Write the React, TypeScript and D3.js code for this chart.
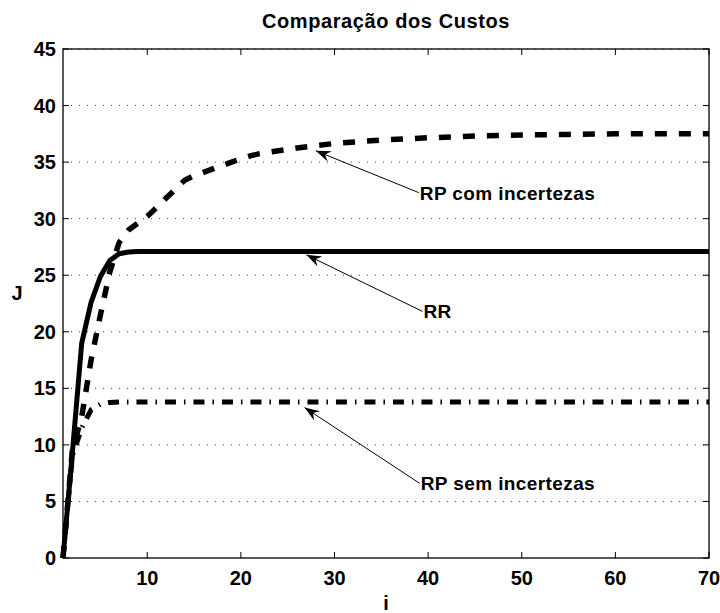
import React from "react";
import * as d3 from "d3";

// iteration index
const iters = [1,2,3,4,5,6,7,8,9,10,11,12,13,14,15,16,17,18,19,20,21,22,24,26,28,30,35,40,45,50,55,60,65,70];
// RR (solid)
const rrValues = [0,9.3,19,22.6,24.9,26.3,26.9,27.05,27.1,27.1,27.1,27.1,27.1,27.1,27.1,27.1,27.1,27.1,27.1,27.1,27.1,27.1,27.1,27.1,27.1,27.1,27.1,27.1,27.1,27.1,27.1,27.1,27.1,27.1];
// RP com incertezas (dashed)
const rpComValues = [0,9.5,12.5,17.5,21.5,25.3,27.9,29,29.6,30.2,31,31.8,32.6,33.4,33.8,34.1,34.4,34.7,35,35.3,35.55,35.75,36.0,36.25,36.45,36.65,36.95,37.15,37.3,37.4,37.45,37.5,37.5,37.5];
// RP sem incertezas (dash-dot)
const rpSemValues = [0,9,11.5,13.1,13.6,13.75,13.8,13.8,13.8,13.8,13.8,13.8,13.8,13.8,13.8,13.8,13.8,13.8,13.8,13.8,13.8,13.8,13.8,13.8,13.8,13.8,13.8,13.8,13.8,13.8,13.8,13.8,13.8,13.8];

const xTicks = [10,20,30,40,50,60,70];
const yTicks = [0,5,10,15,20,25,30,35,40,45];

const title = "Comparação dos Custos";
const xLabel = "i";
const yLabel = "J";

// annotations
const annLabels = ["RP com incertezas", "RR", "RP sem incertezas"];
const annTargetX = [28.0, 27.0, 26.8];
const annTargetY = [36.0, 26.8, 13.3];
const annTextX = [39.0, 39.4, 39.1];
const annTextY = [32.3, 21.8, 6.6];

const W = 720, H = 613;
const L = 63, R = 709, T = 49, B = 558;
const font = "'Liberation Sans', Arial, Helvetica, sans-serif";

export default function App() {
  const x = d3.scaleLinear().domain([1, 70]).range([L, R]);
  const y = d3.scaleLinear().domain([0, 45]).range([B, T]);
  const line = d3.line<number>().x((_, i) => x(iters[i])).y((d) => y(d));

  const arrow = (x1: number, y1: number, x2: number, y2: number) => {
    const ang = Math.atan2(y2 - y1, x2 - x1);
    const len = 15, wid = 5.5, notch = 10;
    const ux = Math.cos(ang), uy = Math.sin(ang);
    const px = -uy, py = ux;
    const bx = x2 - ux * len, by = y2 - uy * len;
    const nx = x2 - ux * notch, ny = y2 - uy * notch;
    return `M${x2},${y2}L${bx + px * wid},${by + py * wid}L${nx},${ny}L${bx - px * wid},${by - py * wid}Z`;
  };

  return (
    <svg width={W} height={H} style={{ position: "absolute", left: 0, top: 0, background: "#fff" }} fontFamily={font}>
      <rect x={0} y={0} width={W} height={H} fill="#fff" />
      {yTicks.filter((t) => t > 0).map((t) => (
        <line key={"g" + t} x1={L} x2={R} y1={y(t)} y2={y(t)} stroke="#444" strokeWidth={1} strokeDasharray="1 7" />
      ))}
      <path d={line(rpSemValues) || ""} fill="none" stroke="#000" strokeWidth={5} strokeDasharray="11 8 1.5 8" />
      <path d={line(rpComValues) || ""} fill="none" stroke="#000" strokeWidth={5.5} strokeDasharray="12 12" />
      <path d={line(rrValues) || ""} fill="none" stroke="#000" strokeWidth={5} strokeLinejoin="round" />
      <rect x={L} y={T} width={R - L} height={B - T} fill="none" stroke="#000" strokeWidth={1.3} />
      {xTicks.map((t) => (
        <g key={"x" + t}>
          <line x1={x(t)} x2={x(t)} y1={B} y2={B - 6} stroke="#000" />
          <line x1={x(t)} x2={x(t)} y1={T} y2={T + 6} stroke="#000" />
          <text x={x(t)} y={585} textAnchor="middle" fontSize={20} fontWeight="bold">{t}</text>
        </g>
      ))}
      {yTicks.map((t) => (
        <g key={"y" + t}>
          <line x1={L} x2={L + 6} y1={y(t)} y2={y(t)} stroke="#000" />
          <line x1={R} x2={R - 6} y1={y(t)} y2={y(t)} stroke="#000" />
          <text x={56} y={y(t) + 7} textAnchor="end" fontSize={20} fontWeight="bold">{t}</text>
        </g>
      ))}
      <text x={386} y={28} textAnchor="middle" fontSize={20} fontWeight="bold" letterSpacing={0.6}>{title}</text>
      <text x={386} y={610} textAnchor="middle" fontSize={20} fontWeight="bold">{xLabel}</text>
      <text x={17} y={300} textAnchor="middle" fontSize={20} fontWeight="bold">{yLabel}</text>
      {annLabels.map((lab, i) => {
        const x1 = x(annTextX[i]), y1 = y(annTextY[i]);
        const x2 = x(annTargetX[i]), y2 = y(annTargetY[i]);
        return (
          <g key={lab}>
            <line x1={x1} y1={y1} x2={x2} y2={y2} stroke="#000" strokeWidth={1} />
            <path d={arrow(x1, y1, x2, y2)} fill="#000" />
            <text x={x1 + 1} y={y1 + 7} fontSize={19} fontWeight="bold" letterSpacing={0.4}>{lab}</text>
          </g>
        );
      })}
    </svg>
  );
}
